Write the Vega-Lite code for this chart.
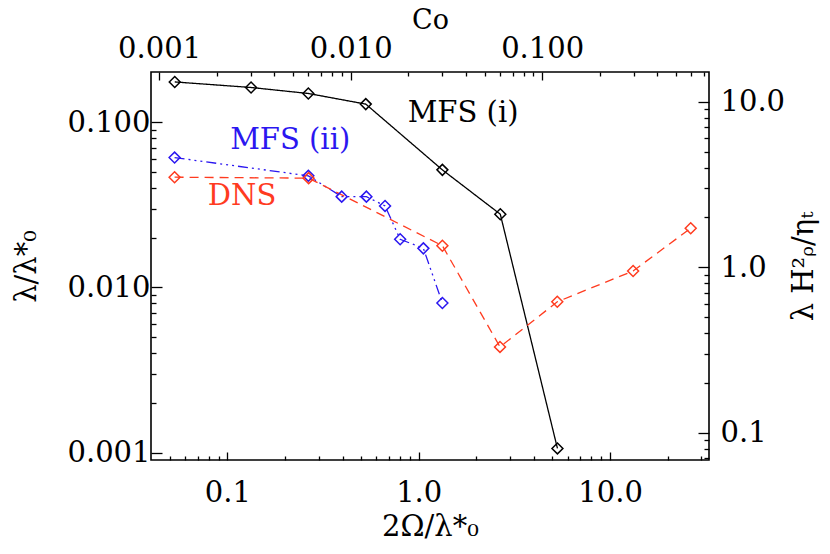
{
  "$schema": "https://vega.github.io/schema/vega-lite/v6.json",
  "width": 558,
  "height": 388,
  "autosize": {"type": "none"},
  "padding": {"left": 151, "top": 72, "right": 121, "bottom": 94},
  "background": "white",
  "config": {
    "view": {"stroke": "black", "strokeWidth": 1.6},
    "font": "DejaVu Serif",
    "axis": {
      "labelFont": "DejaVu Serif", "labelFontSize": 29, "labelColor": "black",
      "titleFont": "DejaVu Serif", "titleFontSize": 29, "titleFontWeight": "normal", "titleColor": "black",
      "domain": false, "grid": false, "tickColor": "black", "tickWidth": 1.3
    }
  },
  "datasets": {
    "curves": [
      {"series": "MFS (i)", "x": 0.0531, "y": 0.175},
      {"series": "MFS (i)", "x": 0.133, "y": 0.162},
      {"series": "MFS (i)", "x": 0.265, "y": 0.149},
      {"series": "MFS (i)", "x": 0.529, "y": 0.1285},
      {"series": "MFS (i)", "x": 1.33, "y": 0.0514},
      {"series": "MFS (i)", "x": 2.67, "y": 0.0277},
      {"series": "MFS (i)", "x": 5.31, "y": 0.00106},
      {"series": "MFS (ii)", "x": 0.053, "y": 0.061},
      {"series": "MFS (ii)", "x": 0.265, "y": 0.0473},
      {"series": "MFS (ii)", "x": 0.396, "y": 0.0354},
      {"series": "MFS (ii)", "x": 0.533, "y": 0.0354},
      {"series": "MFS (ii)", "x": 0.667, "y": 0.0311},
      {"series": "MFS (ii)", "x": 0.8, "y": 0.01955},
      {"series": "MFS (ii)", "x": 1.058, "y": 0.01722},
      {"series": "MFS (ii)", "x": 1.33, "y": 0.00804},
      {"series": "DNS", "x": 0.053, "y": 0.0464},
      {"series": "DNS", "x": 0.266, "y": 0.0458},
      {"series": "DNS", "x": 1.33, "y": 0.01786},
      {"series": "DNS", "x": 2.66, "y": 0.00436},
      {"series": "DNS", "x": 5.3, "y": 0.00818},
      {"series": "DNS", "x": 13.2, "y": 0.01256},
      {"series": "DNS", "x": 26.4, "y": 0.0228}
    ],
    "labels": [
      {"series": "MFS (i)", "x": 1.706, "y": 0.1138},
      {"series": "MFS (ii)", "x": 0.213, "y": 0.0781},
      {"series": "DNS", "x": 0.1193, "y": 0.0357}
    ]
  },
  "resolve": {
    "scale": {"x": "independent", "y": "independent", "color": "independent", "strokeDash": "independent"},
    "axis": {"x": "independent", "y": "independent"}
  },
  "layer": [
    {
      "data": {"name": "curves"},
      "mark": {"type": "line", "strokeWidth": 1.3, "clip": true},
      "encoding": {
        "x": {"field": "x", "type": "quantitative",
          "scale": {"type": "log", "domain": [0.0399, 32.9], "nice": false},
          "axis": {"orient": "bottom", "values": [0.1, 1, 10], "format": ".1f", "tickSize": -8, "labelPadding": 26,
                   "title": "2Ω/λ*₀", "titlePadding": 5}},
        "y": {"field": "y", "type": "quantitative",
          "scale": {"type": "log", "domain": [0.000902, 0.201], "nice": false},
          "axis": {"orient": "left", "values": [0.001, 0.01, 0.1], "format": ".3f", "tickSize": -11, "labelPadding": 12,
                   "title": "λ/λ*₀", "titlePadding": 25}},
        "color": {"field": "series", "type": "nominal", "legend": null,
          "scale": {"domain": ["MFS (i)", "MFS (ii)", "DNS"], "range": ["#000000", "#2b17f0", "#ff3b1f"]}},
        "strokeDash": {"field": "series", "type": "nominal", "legend": null,
          "scale": {"domain": ["MFS (i)", "MFS (ii)", "DNS"], "range": [[1, 0], [10, 4, 2, 4, 2, 4, 2, 4], [9, 6]]}}
      }
    },
    {
      "data": {"name": "curves"},
      "mark": {"type": "point", "shape": "diamond", "filled": false, "size": 120, "strokeWidth": 1.5, "opacity": 1},
      "encoding": {
        "x": {"field": "x", "type": "quantitative", "scale": {"type": "log", "domain": [0.0399, 32.9], "nice": false}, "axis": null},
        "y": {"field": "y", "type": "quantitative", "scale": {"type": "log", "domain": [0.000902, 0.201], "nice": false}, "axis": null},
        "color": {"field": "series", "type": "nominal", "legend": null,
          "scale": {"domain": ["MFS (i)", "MFS (ii)", "DNS"], "range": ["#000000", "#2b17f0", "#ff3b1f"]}}
      }
    },
    {
      "data": {"name": "curves"},
      "mark": {"type": "point", "opacity": 0},
      "encoding": {
        "x": {"field": "x", "type": "quantitative", "scale": {"type": "log", "domain": [0.0399, 32.9], "nice": false},
          "axis": {"orient": "bottom", "values": [0.05, 0.06, 0.07, 0.08, 0.09, 0.2, 0.3, 0.4, 0.5, 0.6, 0.7, 0.8, 0.9, 2, 3, 4, 5, 6, 7, 8, 9, 20, 30],
                   "labels": false, "tickSize": -4, "title": null}},
        "y": {"field": "y", "type": "quantitative", "scale": {"type": "log", "domain": [0.000902, 0.201], "nice": false},
          "axis": {"orient": "left", "values": [0.002, 0.003, 0.004, 0.005, 0.006, 0.007, 0.008, 0.009, 0.02, 0.03, 0.04, 0.05, 0.06, 0.07, 0.08, 0.09],
                   "labels": false, "tickSize": -5, "title": null}}
      }
    },
    {
      "data": {"name": "curves"},
      "mark": {"type": "point", "opacity": 0},
      "encoding": {
        "x": {"field": "x", "type": "quantitative", "scale": {"type": "log", "domain": [0.000907, 0.743], "nice": false},
          "axis": {"orient": "top", "values": [0.001, 0.01, 0.1], "format": ".3f", "tickSize": -8, "labelPadding": 17,
                   "title": "Co", "titlePadding": 0, "titleFontSize": 27}},
        "y": {"field": "y", "type": "quantitative", "scale": {"type": "log", "domain": [0.0682, 15.14], "nice": false},
          "axis": {"orient": "right", "values": [0.1, 1, 10], "format": ".1f", "tickSize": -11, "labelPadding": 22,
                   "title": "λ H²ᵨ/ηₜ", "titleAngle": -90, "titlePadding": 34}}
      }
    },
    {
      "data": {"name": "curves"},
      "mark": {"type": "point", "opacity": 0},
      "encoding": {
        "x": {"field": "x", "type": "quantitative", "scale": {"type": "log", "domain": [0.000907, 0.743], "nice": false},
          "axis": {"orient": "top", "values": [0.002, 0.003, 0.004, 0.005, 0.006, 0.007, 0.008, 0.009, 0.02, 0.03, 0.04, 0.05, 0.06, 0.07, 0.08, 0.09, 0.2, 0.3, 0.4, 0.5, 0.6, 0.7],
                   "labels": false, "tickSize": -4, "title": null}},
        "y": {"field": "y", "type": "quantitative", "scale": {"type": "log", "domain": [0.0682, 15.14], "nice": false},
          "axis": {"orient": "right", "values": [0.07, 0.08, 0.09, 0.2, 0.3, 0.4, 0.5, 0.6, 0.7, 0.8, 0.9, 2, 3, 4, 5, 6, 7, 8, 9],
                   "labels": false, "tickSize": -5, "title": null}}
      }
    },
    {
      "data": {"name": "labels"},
      "mark": {"type": "text", "fontSize": 29, "font": "DejaVu Serif", "align": "center", "baseline": "middle"},
      "encoding": {
        "x": {"field": "x", "type": "quantitative", "scale": {"type": "log", "domain": [0.0399, 32.9], "nice": false}, "axis": null},
        "y": {"field": "y", "type": "quantitative", "scale": {"type": "log", "domain": [0.000902, 0.201], "nice": false}, "axis": null},
        "text": {"field": "series"},
        "color": {"field": "series", "type": "nominal", "legend": null,
          "scale": {"domain": ["MFS (i)", "MFS (ii)", "DNS"], "range": ["#000000", "#2b17f0", "#ff3b1f"]}}
      }
    }
  ]
}
